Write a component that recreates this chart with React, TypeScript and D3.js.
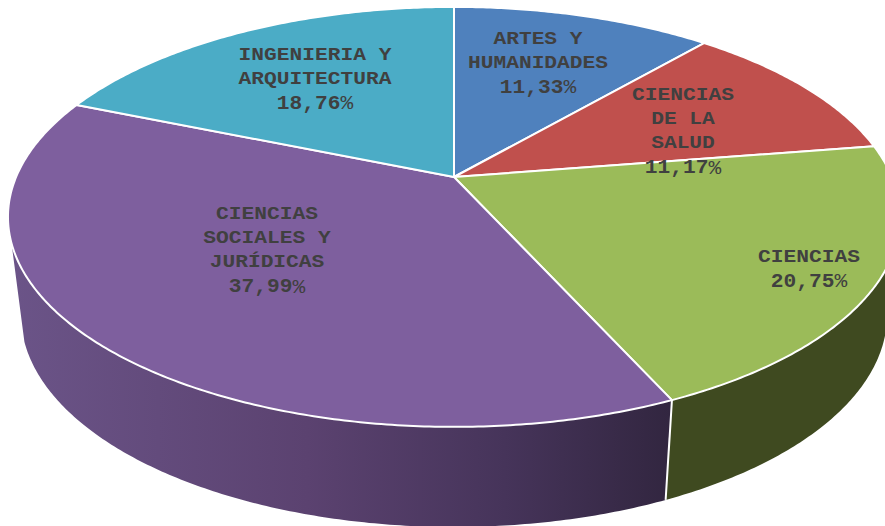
import * as d3 from 'd3';

const categories = [
  'ARTES Y HUMANIDADES',
  'CIENCIAS DE LA SALUD',
  'CIENCIAS',
  'CIENCIAS SOCIALES Y JURÍDICAS',
  'INGENIERIA Y ARQUITECTURA',
];
const shares = [11.33, 11.17, 20.75, 37.99, 18.76];
const percentLabels = ['11,33', '11,17', '20,75', '37,99', '18,76'];
const nameLines = [
  ['ARTES Y', 'HUMANIDADES'],
  ['CIENCIAS', 'DE LA', 'SALUD'],
  ['CIENCIAS'],
  ['CIENCIAS', 'SOCIALES Y', 'JURÍDICAS'],
  ['INGENIERIA Y', 'ARQUITECTURA'],
];
const colors = ['#4f81bd', '#c0504d', '#9bbb59', '#7e5f9e', '#4bacc6'];

// where each label block starts (x centre, first line centre)
const labelAnchors = [
  [538, 39],
  [683, 95],
  [809, 257],
  [267, 214],
  [315, 55],
];

const width = 885;
const height = 526;
const lineStep = 24.3;
const stretch = 1.18;
const fontFamily = '"Liberation Mono", monospace';

// perspective of the tilted disc
const cx = 454;
const cy = 177;
const tilt = -0.19;
const bx = 437.9;
const by = 202.4;

// lower rim of the wall, relative to the centre of the top ellipse
const rimCy = 217;
const wallDrop = 98;
const wallScaleX = 0.971;
const wallScaleY = 1.01;

const wallRight = (100 * Math.PI) / 180;
const wallLeft = (252 * Math.PI) / 180;

function project(angle: number): [number, number] {
  const u = Math.sin(angle);
  const v = -Math.cos(angle);
  const w = 1 + tilt * v;
  return [cx + (bx * u) / w, cy + (by * v) / w];
}

function projectBottom(angle: number): [number, number] {
  const [x, y] = project(angle);
  return [cx + (x - cx) * wallScaleX, rimCy + wallDrop + (y - rimCy) * wallScaleY];
}

function sweep(a0: number, a1: number) {
  const n = Math.max(2, Math.ceil(Math.abs(a1 - a0) / 0.01));
  return d3.range(n + 1).map((i) => a0 + ((a1 - a0) * i) / n);
}

const line = d3.line<[number, number]>();
const arcs = d3.pie<number>().sort(null)(shares);

function topPath(a0: number, a1: number) {
  return line([[cx, cy], ...sweep(a0, a1).map(project)]) + 'Z';
}

function wallPath(a0: number, a1: number) {
  const angles = sweep(a0, a1);
  return line([...angles.map(project), ...[...angles].reverse().map(projectBottom)]) + 'Z';
}

export default function App() {
  const greenArc = arcs[2];
  const purpleArc = arcs[3];
  const seamTop = project(greenArc.endAngle);
  const seamBottom = projectBottom(greenArc.endAngle);

  return (
    <svg
      width={width}
      height={height}
      style={{ position: 'absolute', left: 0, top: 0, display: 'block' }}
    >
      <defs>
        <linearGradient id="wallPurple" gradientUnits="userSpaceOnUse" x1={10} x2={670} y1={0} y2={0}>
          <stop offset="0" stopColor="#6b5488" />
          <stop offset="0.45" stopColor="#5b4270" />
          <stop offset="0.75" stopColor="#46345a" />
          <stop offset="1" stopColor="#322640" />
        </linearGradient>
      </defs>

      <path d={wallPath(Math.max(greenArc.startAngle, wallRight), greenArc.endAngle)} fill="#3f4a20" />
      <path d={wallPath(purpleArc.startAngle, wallLeft)} fill="url(#wallPurple)" />
      <line
        x1={seamTop[0]}
        y1={seamTop[1]}
        x2={seamBottom[0]}
        y2={seamBottom[1]}
        stroke="#fff"
        strokeWidth={2}
      />

      {arcs.map((d, i) => (
        <path
          key={categories[i]}
          d={topPath(d.startAngle, d.endAngle)}
          fill={colors[i]}
          stroke="#fff"
          strokeWidth={2}
          strokeLinejoin="round"
        />
      ))}

      {categories.map((name, i) => {
        const [x, y] = labelAnchors[i];
        const names = nameLines[i];
        return (
          <g key={name} transform={`translate(${x},${y}) scale(${stretch},1)`}>
            {names.map((row, j) => (
              <text
                key={row}
                y={j * lineStep}
                textAnchor="middle"
                dominantBaseline="central"
                fontFamily={fontFamily}
                fontSize={18}
                fontWeight="bold"
                fill="#404040"
              >
                {row}
              </text>
            ))}
            <text
              transform={`translate(0,${names.length * lineStep}) scale(0.9,1)`}
              textAnchor="middle"
              dominantBaseline="central"
              fontFamily={fontFamily}
              fontSize={20}
              fontWeight="bold"
              fill="#404040"
            >
              {percentLabels[i]}
              <tspan fontWeight="normal">%</tspan>
            </text>
          </g>
        );
      })}
    </svg>
  );
}
